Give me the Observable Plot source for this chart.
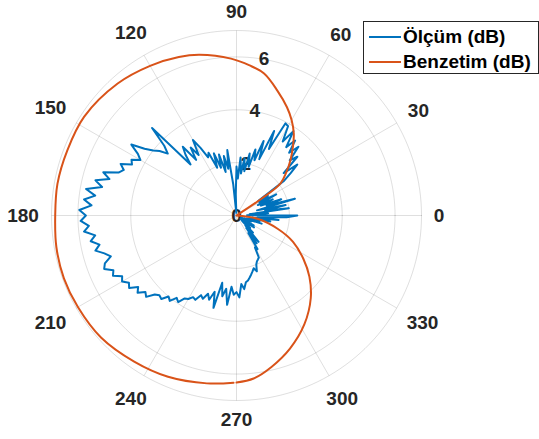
<!DOCTYPE html>
<html>
<head>
<meta charset="utf-8">
<script src="https://cdn.jsdelivr.net/npm/d3@7"></script>
<script src="https://cdn.jsdelivr.net/npm/@observablehq/plot@0.6"></script>
<style>
  body { margin: 0; background: #fff; }
  #wrap { position: relative; width: 539px; height: 439px; font-family: "Liberation Sans", Arial, sans-serif; }
  #legend { position: absolute; left: 363px; top: 21px; width: 176px; height: 53px; box-sizing: border-box;
            border: 1px solid #262626; background: #fff; font-weight: bold; font-size: 19px; color: #000; }
  .row { position: absolute; left: 0; height: 24px; width: 100%; }
  .sw { position: absolute; left: 5px; width: 32px; height: 2px; top: 11px; }
  .lb { position: absolute; left: 39px; top: 0; line-height: 24px; white-space: nowrap; }
</style>
</head>
<body>
<div id="wrap"></div>
<script>
// ---- data ----
const seriesNames = ["Ölçüm (dB)", "Benzetim (dB)"];
const seriesColors = ["#0072BD", "#D95319"];

// Measured pattern (Ölçüm), one value every 2 degrees starting at 0°
const blueStepDeg = 2;
const blueR = [
  2.3, 0.4, 1.2, 0.5, 2.0, 1.1, 1.9, 0.8, 2.3, 1.2,
  1.8, 1.0, 1.5, 0.9, 1.7, 1.0, 1.4, 1.0, 2.2, 2.6,
  3.0, 2.4, 3.2, 2.9, 3.5, 3.1, 3.6, 3.2, 3.85, 3.3,
  3.9, 3.95, 2.8, 3.5, 2.3, 3.0, 2.2, 2.6, 1.9, 2.4,
  1.7, 2.2, 1.6, 2.2, 1.4, 1.85, 0.8, 0.1, 1.2, 2.5,
  1.8, 2.3, 1.7, 2.4, 1.9, 2.5, 1.95, 2.6, 2.45, 2.9,
  3.3, 2.7, 3.1, 2.6, 3.3, 3.0, 2.6, 4.6, 3.8, 3.5,
  3.8, 4.0, 4.3, 4.8, 4.4, 4.2, 4.5, 4.4, 4.8, 4.6,
  4.75, 5.3, 5.0, 5.5, 5.2, 5.78, 5.4, 5.8, 5.5, 5.95,
  5.7, 5.9, 5.6, 5.8, 5.4, 5.6, 5.3, 5.5, 5.2, 5.0,
  5.3, 5.4, 5.1, 5.2, 4.9, 5.0, 4.8, 4.9, 4.6, 4.75,
  4.5, 4.6, 4.3, 4.2, 4.25, 4.0, 4.1, 3.85, 3.95, 3.7,
  3.65, 3.5, 3.55, 3.3, 3.4, 3.15, 3.35, 3.0, 3.6, 2.6,
  3.1, 2.8, 3.4, 2.7, 3.0, 2.9, 3.1, 2.6, 2.8, 2.55,
  2.5, 2.4, 2.3, 2.2, 2.1, 2.25, 2.0, 1.9, 1.85, 1.8,
  1.4, 1.5, 0.8, 1.3, 0.6, 1.3, 0.5, 0.9, 0.3, 0.7,
  0.2, 0.6, 0.3, 0.8, 0.3, 0.75, 0.2, 0.5, 0.2, 0.6,
  0.3, 1.0, 0.4, 0.9, 0.5, 1.3, 0.6, 1.6, 0.8, 1.9
];

// Simulated pattern (Benzetim)
const orangeDeg = [270, 276, 283, 292, 302, 312, 320, 327, 335, 342, 351, 356, 0, 10, 20, 30, 34, 36, 41, 46, 51, 55, 60, 65, 72, 79, 85, 92, 103, 110, 120, 132, 147, 159, 170, 180, 190, 200, 210, 222, 235, 247, 260, 269];
const orangeR   = [6.32, 6.2, 5.88, 5.42, 4.85, 4.2, 3.6, 3.02, 2.36, 1.65, 0.8, 0, 0, 0, 0, 0, 1.2, 2.05, 2.5, 2.95, 3.4, 3.78, 4.17, 4.52, 4.98, 5.47, 5.70, 5.94, 6.24, 6.38, 6.54, 6.72, 6.87, 6.86, 6.88, 6.86, 6.92, 6.95, 6.93, 6.9, 6.75, 6.63, 6.45, 6.33];

// axes
const rMax = 7;
const rTicks = [0, 2, 4, 6];
const rGrid = [2, 4, 6, 7];
const thetaTicks = [0, 30, 60, 90, 120, 150, 180, 210, 240, 270, 300, 330];
const rLabelAngle = 80;

// ---- layout ----
const W = 539, H = 439, cx = 236, cy = 215;
const k = 185 / rMax; // px per unit
const rad = d => d * Math.PI / 180;
const px = (r, a) => r * Math.cos(rad(a));
const py = (r, a) => r * Math.sin(rad(a));

const blueData = blueR.map((r, i) => ({a: i * blueStepDeg, r}));
blueData.push({a: 360, r: blueR[0]});
const orangeData = orangeDeg.map((a, i) => ({a, r: orangeR[i]}));

const ringPts = [];
for (const r of rGrid) for (let a = 0; a <= 360; a += 2) ringPts.push({ring: r, a, r});

const font = '"Liberation Sans", Arial, sans-serif';
const fs = 19;
function labelR(t) {
  const s = String(t);
  const hw = s.length * 5.5, hh = 7;
  const off = hw * Math.abs(Math.cos(rad(t))) + hh * Math.abs(Math.sin(rad(t)));
  return (197 + off) / k;
}

const chart = Plot.plot({
  width: W, height: H, margin: 0,
  x: {domain: [-cx / k, (W - cx) / k], axis: null},
  y: {domain: [-(H - cy) / k, cy / k], axis: null},
  style: {background: "#fff"},
  marks: [
    Plot.line(ringPts, {x: d => px(d.r, d.a), y: d => py(d.r, d.a), z: "ring", stroke: "#262626", strokeOpacity: 0.15, strokeWidth: 1}),
    Plot.link(thetaTicks, {x1: () => 0, y1: () => 0, x2: a => px(rMax, a), y2: a => py(rMax, a), stroke: "#262626", strokeOpacity: 0.15, strokeWidth: 1}),
    Plot.text(thetaTicks, {x: a => px(labelR(a), a), y: a => py(labelR(a), a), text: a => String(a),
      fontSize: fs, fontWeight: "bold", fontFamily: font, fill: "#262626"}),
    Plot.text(rTicks, {x: r => px(r, rLabelAngle), y: r => py(r, rLabelAngle), text: r => String(r),
      fontSize: fs, fontWeight: "bold", fontFamily: font, fill: "#262626"}),
    Plot.line(blueData, {x: d => px(d.r, d.a), y: d => py(d.r, d.a), stroke: seriesColors[0], strokeWidth: 2, strokeLinejoin: "round"}),
    Plot.line(orangeData, {x: d => px(d.r, d.a), y: d => py(d.r, d.a), stroke: seriesColors[1], strokeWidth: 2, curve: "catmull-rom"})
  ]
});

const wrap = document.getElementById("wrap");
wrap.appendChild(chart);
chart.style.position = "absolute";
chart.style.left = "0"; chart.style.top = "0";

const legend = document.createElement("div");
legend.id = "legend";
seriesNames.forEach((n, i) => {
  const row = document.createElement("div");
  row.className = "row";
  row.style.top = (3 + i * 25) + "px";
  const sw = document.createElement("div");
  sw.className = "sw"; sw.style.background = seriesColors[i];
  const lb = document.createElement("div");
  lb.className = "lb"; lb.textContent = n;
  row.appendChild(sw); row.appendChild(lb);
  legend.appendChild(row);
});
wrap.appendChild(legend);
</script>
</body>
</html>
